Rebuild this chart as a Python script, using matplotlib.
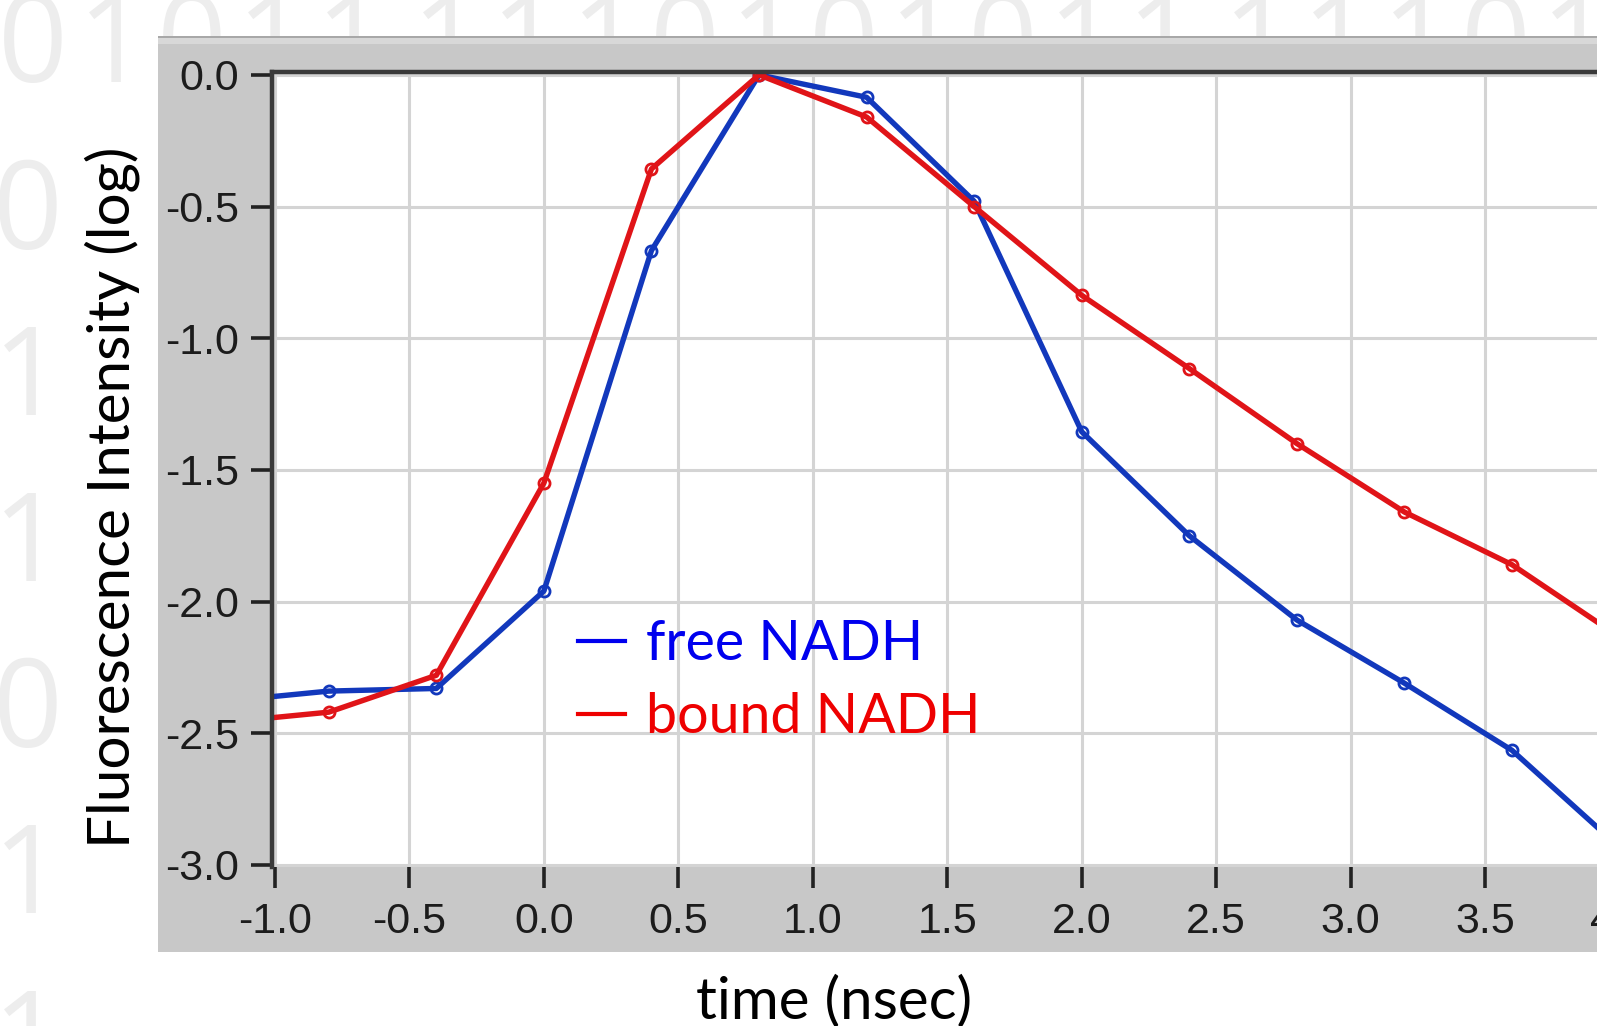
import matplotlib
matplotlib.use('Agg')
import matplotlib.pyplot as plt
from matplotlib.patches import Rectangle
from matplotlib.lines import Line2D
from matplotlib import transforms

# data
time_ns = [-1.0, -0.8, -0.4, 0.0, 0.4, 0.8, 1.2, 1.6, 2.0, 2.4, 2.8, 3.2, 3.6, 3.92]
free_nadh = [-2.36, -2.34, -2.33, -1.96, -0.667, 0.0, -0.085, -0.48, -1.355, -1.75, -2.07, -2.31, -2.565, -2.86]
bound_nadh = [-2.44, -2.42, -2.28, -1.55, -0.357, 0.0, -0.16, -0.50, -0.837, -1.115, -1.40, -1.66, -1.86, -2.08]
x_ticks = [-1.0, -0.5, 0.0, 0.5, 1.0, 1.5, 2.0, 2.5, 3.0, 3.5]
y_ticks = [0.0, -0.5, -1.0, -1.5, -2.0, -2.5, -3.0]
series_names = ['free NADH', 'bound NADH']

W, H = 1597, 1026
TICK_FONT = ['Liberation Sans', 'DejaVu Sans']
TEXT_FONT = ['Lato', 'DejaVu Sans']
DIGIT_FONT = ['Open Sans', 'DejaVu Sans']

fig = plt.figure(figsize=(W / 100, H / 100), dpi=100)
fig.patch.set_facecolor('white')

def fx(px):
    return px / W

def fy(py):
    return 1 - py / H

# faint binary digits in the background
top_row = '01011 1110101011 11101'
x = 33
for ch in top_row:
    if ch == ' ':
        x += 16
        continue
    fig.text(fx(x), fy(82), ch, ha='center', va='baseline', fontsize=88,
             color='#ededed', family=DIGIT_FONT, zorder=0.1)
    x += 79.5
left_col = '011011'
for i, ch in enumerate(left_col):
    fig.text(fx(28), fy(249 + 166 * i), ch, ha='center', va='baseline', fontsize=88,
             color='#ededed', family=DIGIT_FONT, zorder=0.1)

# grey instrument panel behind the graph
fig.patches.append(Rectangle((fx(158), fy(952)), 1 - fx(158), (952 - 37) / H,
                             transform=fig.transFigure, facecolor='#c8c8c8',
                             edgecolor='none', zorder=0.2))
fig.patches.append(Rectangle((fx(158), fy(44)), 1 - fx(158), 7 / H,
                             transform=fig.transFigure, facecolor='#d8d8d8',
                             edgecolor='none', zorder=0.25))
fig.patches.append(Rectangle((fx(158), fy(38)), 1 - fx(158), 2 / H,
                             transform=fig.transFigure, facecolor='#a8a8a8',
                             edgecolor='none', zorder=0.25))

ax = fig.add_axes([fx(272), fy(867), 1 - fx(272), (867 - 72) / H])
ax.set_zorder(1)
ax.set_facecolor('white')

ax.plot(time_ns, free_nadh, color='#1238bc', lw=3.9, marker='o', ms=8,
        mfc='none', mec='#1238bc', mew=2.0, markevery=slice(1, -1),
        solid_joinstyle='round')
ax.plot(time_ns, bound_nadh, color='#e01418', lw=3.9, marker='o', ms=8,
        mfc='none', mec='#e01418', mew=2.0, markevery=slice(1, -1),
        solid_joinstyle='round')

ax.set_xlim(-1.011, 3.916)
ax.set_ylim(-3.008, 0.011)
ax.set_xticks(x_ticks)
ax.set_yticks(y_ticks)
ax.set_xticklabels([f'{v:.1f}' for v in x_ticks])
ax.set_yticklabels([f'{v:.1f}' if v != 0 else '0.0' for v in y_ticks])
ax.grid(True, color='#d4d4d4', lw=2.2)
ax.set_axisbelow(True)

for side in ['right', 'bottom']:
    ax.spines[side].set_visible(False)
for side in ['left', 'top']:
    ax.spines[side].set_color('#3a3a3a')
    ax.spines[side].set_linewidth(3.2)

ax.tick_params(axis='both', direction='out', length=15, width=2.6, color='#222222',
               labelsize=31, labelcolor='#1c1c1c')
ax.tick_params(axis='x', pad=10)
ax.tick_params(axis='y', pad=9)
for lab in ax.get_xticklabels() + ax.get_yticklabels():
    lab.set_family(TICK_FONT)

# next tick label is cut by the right edge of the picture
off = transforms.offset_copy(ax.get_xaxis_transform(), fig=fig, y=-(15 + 10), units='points')
ax.text(4.0, 0, '4.0', transform=off, ha='center', va='top', fontsize=31,
        color='#1c1c1c', family=TICK_FONT, clip_on=False)

# legend
handles = [Line2D([], [], color='#0000ee', lw=3), Line2D([], [], color='#ee0000', lw=3)]
leg = ax.legend(handles, series_names, loc='upper left',
                bbox_to_anchor=(fx(578), fy(619)), bbox_transform=fig.transFigure,
                frameon=False, handlelength=0.85, handletextpad=0.38,
                labelspacing=0.4, borderpad=0, borderaxespad=0,
                prop={'family': TEXT_FONT, 'size': 40})
for txt, c in zip(leg.get_texts(), ['#0000ee', '#ee0000']):
    txt.set_color(c)

fig.text(fx(112), fy(497), 'Fluorescence Intensity (log)', rotation=90,
         ha='center', va='center', fontsize=42, family=TEXT_FONT, color='black')
fig.text(fx(834), fy(1018), 'time (nsec)', ha='center', va='baseline',
         fontsize=42, family=TEXT_FONT, color='black')

fig.savefig('out.png', dpi=100)
